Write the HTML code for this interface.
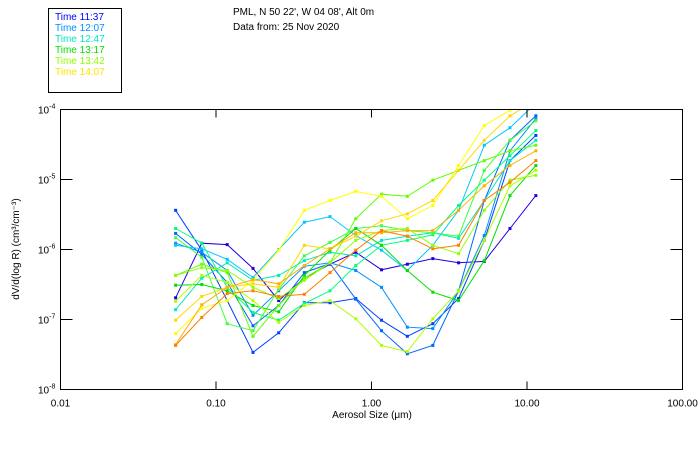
<!DOCTYPE html>
<html><head><meta charset="utf-8"><style>
html,body{margin:0;padding:0;background:#fff;}
svg{display:block;font-family:"Liberation Sans",sans-serif;}
</style></head><body>
<svg id="chart" width="700" height="450" viewBox="0 0 700 450" xmlns="http://www.w3.org/2000/svg">
<rect x="0" y="0" width="700" height="450" fill="#fff"/>
<g>
<rect x="48.5" y="8.5" width="73" height="84" fill="#fff" stroke="#000" stroke-width="1"/>
<text x="55" y="20" font-size="10" fill="#0000ff">Time 11:37</text>
<text x="55" y="31" font-size="10" fill="#0090ff">Time 12:07</text>
<text x="55" y="42" font-size="10" fill="#00e8c0">Time 12:47</text>
<text x="55" y="53" font-size="10" fill="#00e000">Time 13:17</text>
<text x="55" y="64" font-size="10" fill="#90ff00">Time 13:42</text>
<text x="55" y="75" font-size="10" fill="#ffe000">Time 14:07</text>
</g>
<text x="233" y="15" font-size="10" fill="#000">PML, N 50 22', W 04 08', Alt 0m</text>
<text x="233" y="30" font-size="10" fill="#000">Data from: 25 Nov 2020</text>
<g id="plot"></g>
<rect x="60.5" y="109.5" width="622" height="280" fill="none" stroke="#000" stroke-width="1"/>
<g id="axes"></g>
<text x="372" y="418" font-size="10" text-anchor="middle">Aerosol Size (μm)</text>
<text transform="translate(19,249) rotate(-90)" font-size="10" text-anchor="middle">dV/d(log R) (cm³/cm⁻³)</text>
</svg>
<script>
const sizes = [0.055,0.081,0.118,0.173,0.253,0.370,0.541,0.792,1.16,1.70,2.48,3.63,5.31,7.77,11.4];
const xTicks = [0.01,0.1,1,10,100];
const xTickLabels = ["0.01","0.10","1.00","10.00","100.00"];
const yTickExps = [-4,-5,-6,-7,-8];
// series values stored as log10(dV/dlogR)
const s1 = [-6.69,-5.91,-5.93,-6.27,-6.73,-6.41,-6.21,-6.04,-6.29,-6.21,-6.13,-6.19,-6.17,-5.70,-5.23];
const s2 = [-5.44,-6.01,-6.73,-7.47,-7.19,-6.76,-6.76,-6.70,-7.01,-7.24,-7.06,-6.70,-5.87,-4.73,-4.37];
const s3 = [-5.77,-6.07,-6.47,-7.09,-6.80,-6.33,-6.20,-6.71,-7.16,-7.49,-7.37,-6.59,-5.30,-4.44,-4.09];
const s4 = [-5.91,-6.04,-6.30,-6.94,-6.59,-6.24,-6.19,-6.30,-6.54,-7.11,-7.13,-6.59,-5.80,-4.59,-4.13];
const s5 = [-5.94,-5.99,-6.14,-6.40,-6.00,-5.61,-5.53,-5.80,-6.01,-6.30,-5.94,-5.44,-4.51,-4.26,-3.91];
const s6 = [-6.86,-6.41,-6.19,-6.44,-6.37,-6.16,-6.04,-6.09,-5.87,-5.81,-5.76,-5.84,-5.30,-4.73,-4.44];
const s7 = [-5.70,-5.91,-6.54,-6.90,-7.01,-6.77,-6.59,-6.23,-5.94,-5.87,-5.79,-5.37,-5.01,-4.66,-4.30];
const s8 = [-5.83,-6.11,-7.06,-7.16,-6.57,-6.09,-5.90,-5.70,-5.66,-5.73,-5.76,-5.81,-4.87,-4.44,-4.16];
const s9 = [-6.51,-6.50,-6.59,-6.80,-6.89,-6.37,-6.01,-5.70,-5.94,-6.30,-6.61,-6.73,-6.16,-5.23,-4.80];
const s10 = [-6.37,-6.21,-6.33,-7.24,-6.80,-6.41,-6.19,-5.56,-5.21,-5.24,-5.01,-4.87,-4.73,-4.59,-4.51];
const s11 = [-6.74,-6.37,-6.47,-6.73,-7.04,-6.80,-6.73,-6.99,-7.37,-7.46,-6.99,-6.59,-5.87,-5.09,-4.87];
const s12 = [-6.37,-6.26,-6.30,-6.54,-6.70,-6.44,-6.19,-5.87,-5.73,-5.70,-5.94,-6.06,-5.44,-5.01,-4.94];
const s13 = [-7.20,-6.84,-6.73,-6.44,-6.01,-5.44,-5.30,-5.17,-5.24,-5.56,-5.37,-4.80,-4.23,-4.01,-3.84];
const s14 = [-7.01,-6.67,-6.54,-6.49,-6.54,-5.94,-5.99,-5.81,-5.59,-5.49,-5.30,-4.87,-4.44,-4.09,-3.87];
const s15 = [-7.36,-6.79,-6.54,-6.43,-6.49,-6.23,-5.99,-5.76,-5.76,-5.73,-5.73,-5.44,-5.09,-4.80,-4.59];
const s16 = [-7.37,-6.97,-6.63,-6.59,-6.67,-6.64,-6.33,-6.01,-5.73,-5.81,-5.99,-5.94,-5.30,-5.04,-4.73];
const seriesList = [s1,s2,s3,s4,s5,s6,s7,s8,s9,s10,s11,s12,s13,s14,s15,s16];
const seriesColors = ["#2000e0","#0040ff","#0064ff","#0090ff","#00c8ff","#00e8c0","#00ff80","#40ff40","#00e000","#60ff00","#b0ff00","#90ff00","#ffff00","#ffd800","#ffb000","#ff8000"];

const NS = "http://www.w3.org/2000/svg";
const X0 = 60.5, X1 = 682.5, Y0 = 109.5, Y1 = 389.5;
function xScale(v){ return X0 + (Math.log10(v) + 2) / 4 * (X1 - X0); }
function yScale(e){ return Y0 + (-4 - e) / 4 * (Y1 - Y0); }
const plot = document.getElementById('plot');
const clip = document.createElementNS(NS,'clipPath');
clip.setAttribute('id','pc');
const cr = document.createElementNS(NS,'rect');
cr.setAttribute('x',X0); cr.setAttribute('y',Y0); cr.setAttribute('width',X1-X0); cr.setAttribute('height',Y1-Y0);
clip.appendChild(cr); plot.appendChild(clip);
plot.setAttribute('clip-path','url(#pc)');
seriesList.forEach((s,i)=>{
  const g = document.createElementNS(NS,'g');
  
  
  const pts = s.map((e,j)=>xScale(sizes[j]).toFixed(1)+','+yScale(e).toFixed(1)).join(' ');
  const pl = document.createElementNS(NS,'polyline');
  pl.setAttribute('points',pts); pl.setAttribute('fill','none');
  pl.setAttribute('stroke',seriesColors[i]); pl.setAttribute('stroke-width','1');
  
  
  g.appendChild(pl);
  s.forEach((e,j)=>{
    const r = document.createElementNS(NS,'rect');
    r.setAttribute('x',xScale(sizes[j])-1.5); r.setAttribute('y',yScale(e)-1.5);
    r.setAttribute('width',3); r.setAttribute('height',3); r.setAttribute('fill',seriesColors[i]);
    
    
    g.appendChild(r);
  });
  plot.appendChild(g);
});
const axes = document.getElementById('axes');
xTicks.forEach((t,i)=>{
  const x = xScale(t);
  const l = document.createElementNS(NS,'line');
  l.setAttribute('x1',x); l.setAttribute('x2',x); l.setAttribute('y1',Y1); l.setAttribute('y2',Y1-8);
  l.setAttribute('stroke','#000');
  
  
  axes.appendChild(l);
  const l2 = document.createElementNS(NS,'line');
  l2.setAttribute('x1',x); l2.setAttribute('x2',x); l2.setAttribute('y1',Y0); l2.setAttribute('y2',Y0+8);
  l2.setAttribute('stroke','#000');
  
  
  axes.appendChild(l2);
  const tx = document.createElementNS(NS,'text');
  tx.setAttribute('x',x); tx.setAttribute('y',Y1+17); tx.setAttribute('font-size','10');
  tx.setAttribute('text-anchor','middle'); tx.textContent = xTickLabels[i];
  
  
  axes.appendChild(tx);
});
yTickExps.forEach(e=>{
  const y = yScale(e);
  const l = document.createElementNS(NS,'line');
  l.setAttribute('x1',X0); l.setAttribute('x2',X0+12); l.setAttribute('y1',y); l.setAttribute('y2',y);
  l.setAttribute('stroke','#000');
  
  
  axes.appendChild(l);
  const l2 = document.createElementNS(NS,'line');
  l2.setAttribute('x1',X1); l2.setAttribute('x2',X1-12); l2.setAttribute('y1',y); l2.setAttribute('y2',y);
  l2.setAttribute('stroke','#000');
  
  
  axes.appendChild(l2);
  const tx = document.createElementNS(NS,'text');
  tx.setAttribute('x',38); tx.setAttribute('y',y+4); tx.setAttribute('font-size','10');
  tx.innerHTML = '10<tspan dy="-5" font-size="7">' + e + '</tspan>';
  
  
  axes.appendChild(tx);
});
</script>
</body></html>
